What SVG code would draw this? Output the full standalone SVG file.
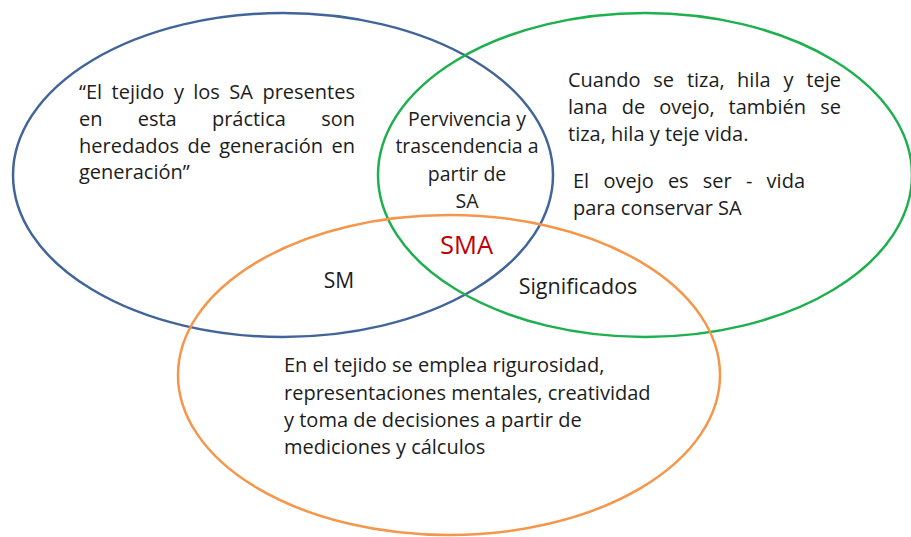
<svg xmlns="http://www.w3.org/2000/svg" width="911" height="537" viewBox="0 0 911 537">
<style>
.e{fill:none;stroke-width:2.5}
.t{font-family:"Open Sans","Liberation Sans",sans-serif;font-size:20px;fill:#1c1c1c}
.c{text-anchor:middle}
.r{text-anchor:end}
</style>
<rect width="911" height="537" fill="#fff"/>
<g id="blue"><ellipse class="e" cx="283" cy="175" rx="270" ry="162" stroke="#41659A"/></g>
<g id="green"><ellipse class="e" cx="645" cy="175" rx="267" ry="162" stroke="#1DB04F"/></g>
<g id="orange"><ellipse class="e" cx="449" cy="375" rx="271" ry="160" stroke="#F5964A"/></g>
<g id="left-text" class="t">
<text x="79" y="99.3">“El</text><text x="111.6" y="99.3">tejido</text><text x="173.9" y="99.3">y</text><text x="193.2" y="99.3">los</text><text x="229.3" y="99.3">SA</text><text x="355" y="99.3" class="r">presentes</text>
<text x="79" y="126">en</text><text x="137.7" y="126">esta</text><text x="211.9" y="126">práctica</text><text x="355" y="126" class="r">son</text>
<text x="79" y="152.7">heredados</text><text x="187.4" y="152.7">de</text><text x="219.2" y="152.7">generación</text><text x="355" y="152.7" class="r">en</text>
<text x="79" y="179.3">generación”</text>
</g>
<g id="right-text" class="t">
<text x="568" y="87">Cuando</text><text x="653.3" y="87">se</text><text x="686.9" y="87">tiza,</text><text x="737.1" y="87">hila</text><text x="783.5" y="87">y</text><text x="841" y="87" class="r">teje</text>
<text x="568" y="114">lana</text><text x="621.7" y="114">de</text><text x="659.2" y="114">ovejo,</text><text x="728.5" y="114">también</text><text x="841" y="114" class="r">se</text>
<text x="568" y="141">tiza, hila y teje vida.</text>
<text x="573" y="188">El</text><text x="603.4" y="188">ovejo</text><text x="667.9" y="188">es</text><text x="702.8" y="188">ser</text><text x="745.9" y="188">-</text><text x="805" y="188" class="r">vida</text>
<text x="573" y="215">para conservar SA</text>
</g>
<g id="center-text" class="t c" style="font-size:19.5px">
<text x="467" y="126">Pervivencia y</text>
<text x="467" y="153">trascendencia a</text>
<text x="467" y="181">partir de</text>
<text x="467" y="208">SA</text>
</g>
<g id="sma"><text x="466.5" y="254" class="t c" style="font-size:25.5px;fill:#C00000">SMA</text></g>
<g id="sm"><text x="339" y="288" class="t c" style="font-size:21px">SM</text></g>
<g id="significados"><text x="578" y="294" class="t c" style="font-size:21.5px">Significados</text></g>
<g id="bottom-text" class="t">
<text x="284" y="372">En el tejido se emplea rigurosidad,</text>
<text x="284" y="400">representaciones mentales, creatividad</text>
<text x="284" y="427">y toma de decisiones a partir de</text>
<text x="284" y="454">mediciones y cálculos</text>
</g>
</svg>
